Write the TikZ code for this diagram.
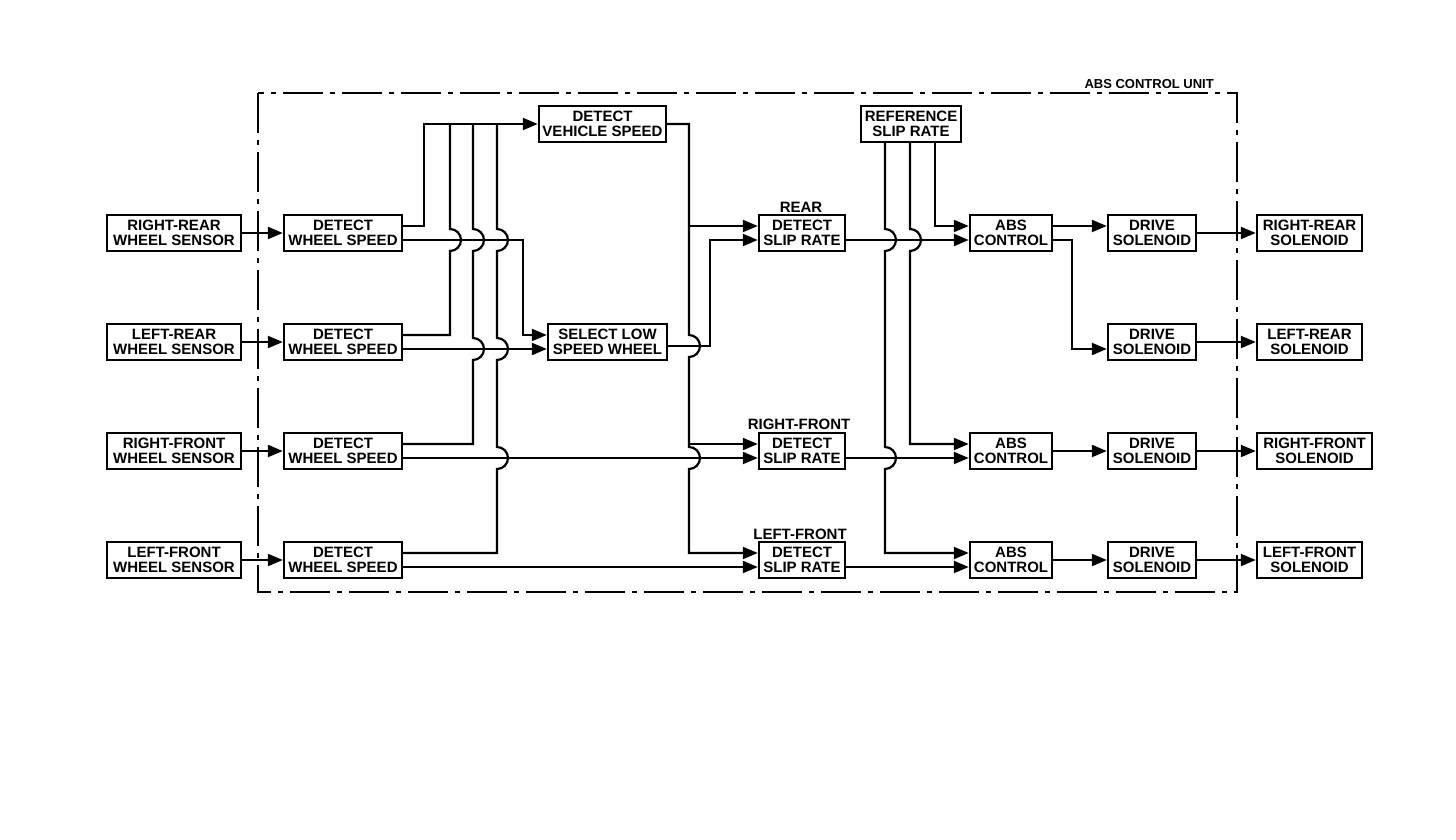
\documentclass[tikz,border=0pt]{standalone}
\usepackage{fontspec}
\setmainfont{Liberation Sans}
\usetikzlibrary{arrows.meta,calc}
\begin{document}
\begin{tikzpicture}[x=1pt,y=-1pt,
  txt/.style={font=\fontsize{15}{15}\selectfont\bfseries},
  box/.style={draw, line width=2.4pt, inner sep=0pt, minimum height=36pt, align=center, txt},
  ln/.style={line width=2.2pt},
  arr/.style={ln, -{Triangle[length=15pt,width=12pt]}},
  lbl/.style={txt, inner sep=0pt},
  hopup/.style 2 args={insert path={-- (#1,#2+11) arc[start angle=90,end angle=-90,radius=11]}},
  hopdown/.style 2 args={insert path={-- (#1,#2-11) arc[start angle=-90,end angle=90,radius=11]}},
  unit/.style={line width=2.6pt, dash pattern=on 40pt off 7pt on 5pt off 7pt}]
\useasboundingbox (0,0) rectangle (1456,840);

% ABS control unit frame
\draw[unit] (258,93) rectangle (1237,592);
\node[lbl, font=\fontsize{13}{13}\selectfont\bfseries, anchor=south east] (unitlbl) at (1214,89) {ABS CONTROL UNIT};

% sensors
\node[box, minimum width=134pt] (s1) at (174,233) {RIGHT-REAR\\WHEEL SENSOR};
\node[box, minimum width=134pt] (s2) at (174,342) {LEFT-REAR\\WHEEL SENSOR};
\node[box, minimum width=134pt] (s3) at (174,451) {RIGHT-FRONT\\WHEEL SENSOR};
\node[box, minimum width=134pt] (s4) at (174,560) {LEFT-FRONT\\WHEEL SENSOR};

% detect wheel speed
\node[box, minimum width=118pt] (d1) at (343,233) {DETECT\\WHEEL SPEED};
\node[box, minimum width=118pt] (d2) at (343,342) {DETECT\\WHEEL SPEED};
\node[box, minimum width=118pt] (d3) at (343,451) {DETECT\\WHEEL SPEED};
\node[box, minimum width=118pt] (d4) at (343,560) {DETECT\\WHEEL SPEED};

\node[box, minimum width=127pt] (dvs) at (602.5,124) {DETECT\\VEHICLE SPEED};
\node[box, minimum width=119pt] (sl) at (607.5,342) {SELECT LOW\\SPEED WHEEL};

% detect slip rate
\node[box, minimum width=86pt] (r1) at (802,233) {DETECT\\SLIP RATE};
\node[box, minimum width=86pt] (r3) at (802,451) {DETECT\\SLIP RATE};
\node[box, minimum width=86pt] (r4) at (802,560) {DETECT\\SLIP RATE};
\node[lbl] (l1) at (801,207) {REAR};
\node[lbl] (l3) at (799,424) {RIGHT-FRONT};
\node[lbl] (l4) at (800,534) {LEFT-FRONT};

\node[box, minimum width=100pt] (rsr) at (911,124) {REFERENCE\\SLIP RATE};

% ABS control
\node[box, minimum width=82pt] (a1) at (1011,233) {ABS\\CONTROL};
\node[box, minimum width=82pt] (a3) at (1011,451) {ABS\\CONTROL};
\node[box, minimum width=82pt] (a4) at (1011,560) {ABS\\CONTROL};

% drive solenoid
\node[box, minimum width=88pt] (v1) at (1152,233) {DRIVE\\SOLENOID};
\node[box, minimum width=88pt] (v2) at (1152,342) {DRIVE\\SOLENOID};
\node[box, minimum width=88pt] (v3) at (1152,451) {DRIVE\\SOLENOID};
\node[box, minimum width=88pt] (v4) at (1152,560) {DRIVE\\SOLENOID};

% solenoids
\node[box, minimum width=105pt] (o1) at (1309.5,233) {RIGHT-REAR\\SOLENOID};
\node[box, minimum width=105pt] (o2) at (1309.5,342) {LEFT-REAR\\SOLENOID};
\node[box, minimum width=115pt] (o3) at (1314.5,451) {RIGHT-FRONT\\SOLENOID};
\node[box, minimum width=105pt] (o4) at (1309.5,560) {LEFT-FRONT\\SOLENOID};

% sensors -> detect wheel speed
\foreach \i in {1,2,3,4} \draw[arr] (s\i.east) -- (d\i.west);

% upper outputs of detect wheel speed -> bus -> detect vehicle speed
\draw[arr] ($(d1.east)+(0,-7)$) -| (424,124) -- (dvs.west);
\draw[ln] ($(d2.east)+(0,-7)$) -- (450,335) [hopup={450}{240}] -- (450,124);
\draw[ln] ($(d3.east)+(0,-7)$) -- (473,444) [hopup={473}{349}] [hopup={473}{240}] -- (473,124);
\draw[ln] ($(d4.east)+(0,-7)$) -- (497,553) [hopup={497}{458}] [hopup={497}{349}] [hopup={497}{240}] -- (497,124);

% lower outputs
\draw[arr] ($(d1.east)+(0,7)$) -- (523,240) |- ($(sl.west)+(0,-7)$);
\draw[arr] ($(d2.east)+(0,7)$) -- ($(sl.west)+(0,7)$);
\draw[arr] ($(d3.east)+(0,7)$) -- ($(r3.west)+(0,7)$);
\draw[arr] ($(d4.east)+(0,7)$) -- ($(r4.west)+(0,7)$);

% vehicle speed -> detect slip rate (upper inputs)
\draw[arr] (dvs.east) -- (689,124) [hopdown={689}{346}] [hopdown={689}{458}] |- ($(r4.west)+(0,-7)$);
\draw[arr] (689,226) -- ($(r1.west)+(0,-7)$);
\draw[arr] (689,444) -- ($(r3.west)+(0,-7)$);

% select low -> rear slip rate
\draw[arr] ($(sl.east)+(0,4)$) -- (710,346) |- ($(r1.west)+(0,7)$);

% reference slip rate -> ABS control
\draw[arr] (935,142) |- ($(a1.west)+(0,-7)$);
\draw[arr] (910,142) [hopdown={910}{240}] |- ($(a3.west)+(0,-7)$);
\draw[arr] (885,142) [hopdown={885}{240}] [hopdown={885}{458}] |- ($(a4.west)+(0,-7)$);

% detect slip rate -> ABS control
\draw[arr] ($(r1.east)+(0,7)$) -- ($(a1.west)+(0,7)$);
\draw[arr] ($(r3.east)+(0,7)$) -- ($(a3.west)+(0,7)$);
\draw[arr] ($(r4.east)+(0,7)$) -- ($(a4.west)+(0,7)$);

% ABS control -> drive solenoid
\draw[arr] ($(a1.east)+(0,-7)$) -- ($(v1.west)+(0,-7)$);
\draw[arr] ($(a1.east)+(0,7)$) -- (1072,240) |- ($(v2.west)+(0,7)$);
\draw[arr] (a3.east) -- (v3.west);
\draw[arr] (a4.east) -- (v4.west);

% drive solenoid -> solenoids
\foreach \i in {1,2,3,4} \draw[arr] (v\i.east) -- (o\i.west);
\end{tikzpicture}
\end{document}
